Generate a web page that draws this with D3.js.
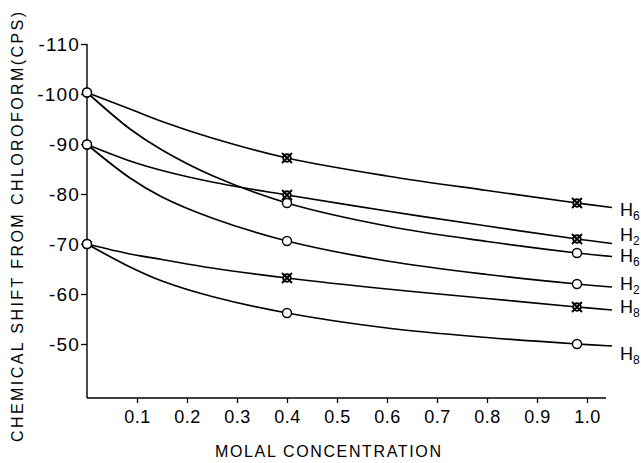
<!DOCTYPE html>
<html>
<head>
<meta charset="utf-8">
<script src="https://cdn.jsdelivr.net/npm/d3@7"></script>
<style>
  html, body { margin: 0; padding: 0; background: #fff; }
  svg { display: block; }
  text { font-family: "Liberation Sans", Arial, sans-serif; fill: #000; }
</style>
</head>
<body>
<svg id="chart" width="641" height="463"></svg>
<script>
// ---- data ----
const xTicks = [0.1, 0.2, 0.3, 0.4, 0.5, 0.6, 0.7, 0.8, 0.9, 1.0];
const xTickLabels = ["0.1", "0.2", "0.3", "0.4", "0.5", "0.6", "0.7", "0.8", "0.9", "1.0"];
const yTicks = [-110, -100, -90, -80, -70, -60, -50];
const yTickLabels = ["-110", "-100", "-90", "-80", "-70", "-60", "-50"];

const seriesNames = ["H6 (x)", "H2 (x)", "H6 (o)", "H2 (o)", "H8 (x)", "H8 (o)"];
const seriesLabel = ["6", "2", "6", "2", "8", "8"];
const seriesMarker = ["cross", "cross", "open", "open", "cross", "open"];

// measured points (molal concentration)
const markerX = [0, 0.4, 0.98];
const h6Cross = [-100.3, -87.2, -78.2];
const h2Cross = [-89.9, -79.8, -71.0];
const h6Open  = [-100.3, -78.2, -68.2];
const h2Open  = [-89.9, -70.6, -62.0];
const h8Cross = [-70.0, -63.2, -57.4];
const h8Open  = [-70.0, -56.2, -50.0];

// smooth curves
const traceX = [0, 0.086, 0.15, 0.25, 0.4, 0.6, 0.8, 0.98, 1.05];
const h6CrossTrace = [-100.3, -97.0, -94.5, -91.2, -87.2, -83.6, -80.7, -78.2, -77.3];
const h2CrossTrace = [-89.9, -86.6, -84.7, -82.4, -79.8, -76.6, -73.6, -71.0, -70.1];
const h6OpenTrace  = [-100.3, -93.0, -88.8, -83.7, -78.2, -73.6, -70.5, -68.2, -67.5];
const h2OpenTrace  = [-89.9, -83.2, -79.4, -75.2, -70.6, -66.6, -63.9, -62.0, -61.4];
const h8CrossTrace = [-70.0, -68.0, -66.9, -65.2, -63.2, -61.0, -59.1, -57.4, -56.8];
const h8OpenTrace  = [-70.0, -65.4, -62.6, -59.5, -56.2, -53.2, -51.3, -50.0, -49.6];

const markers = [h6Cross, h2Cross, h6Open, h2Open, h8Cross, h8Open];
const traces = [h6CrossTrace, h2CrossTrace, h6OpenTrace, h2OpenTrace, h8CrossTrace, h8OpenTrace];

// ---- layout ----
const L = { x0: 87, x1: 587, yTop: 44, yBot: 344, axisY: 398, axisRight: 606 };
const labelNudge = [8, -3, 5, 3, 3, 14];

const svg = d3.select("#chart");
const x = d3.scaleLinear().domain([0, 1]).range([L.x0, L.x1]);
const y = d3.scaleLinear().domain([-110, -50]).range([L.yTop, L.yBot]);

// axes lines
svg.append("line").attr("x1", L.x0).attr("x2", L.x0).attr("y1", y(-110)).attr("y2", L.axisY)
  .attr("stroke", "#000").attr("stroke-width", 1.4);
svg.append("line").attr("x1", L.x0).attr("x2", L.axisRight).attr("y1", L.axisY).attr("y2", L.axisY)
  .attr("stroke", "#000").attr("stroke-width", 1.4);

// y axis ticks
const yAxis = d3.axisLeft(y).tickValues(yTicks).tickSize(6).tickPadding(1)
  .tickFormat((d, i) => yTickLabels[i]);
const gy = svg.append("g").attr("transform", `translate(${L.x0},0)`).call(yAxis);
gy.select(".domain").remove();
gy.selectAll(".tick line").attr("stroke", "#000").attr("stroke-width", 1.3);
gy.selectAll(".tick text").attr("font-size", 19).attr("letter-spacing", 1.2)
  .attr("font-family", "Liberation Sans, Arial, sans-serif").attr("fill", "#000");

// x axis ticks
const xAxis = d3.axisBottom(x).tickValues(xTicks).tickSize(5).tickPadding(7)
  .tickFormat((d, i) => xTickLabels[i]);
const gx = svg.append("g").attr("transform", `translate(0,${L.axisY})`).call(xAxis);
gx.select(".domain").remove();
gx.selectAll(".tick line").attr("stroke", "#000").attr("stroke-width", 1.3);
gx.selectAll(".tick text").attr("font-size", 18).attr("letter-spacing", 0.5)
  .attr("font-family", "Liberation Sans, Arial, sans-serif").attr("fill", "#000");

// axis titles
svg.append("text").attr("x", 328).attr("y", 457).attr("text-anchor", "middle")
  .attr("font-size", 16).attr("textLength", 226).attr("lengthAdjust", "spacing")
  .text("MOLAL CONCENTRATION");
svg.append("text").attr("transform", "translate(23,227) rotate(-90)").attr("text-anchor", "middle")
  .attr("font-size", 16).attr("textLength", 430).attr("lengthAdjust", "spacing")
  .text("CHEMICAL SHIFT FROM CHLOROFORM(CPS)");

// curves
const line = d3.line().x(d => x(d[0])).y(d => y(d[1])).curve(d3.curveCatmullRom.alpha(0.5));
traces.forEach((t) => {
  svg.append("path").datum(traceX.map((xx, i) => [xx, t[i]]))
    .attr("d", line).attr("fill", "none").attr("stroke", "#000").attr("stroke-width", 1.7);
});

// markers
markers.forEach((m, s) => {
  m.forEach((v, i) => {
    const cx = x(markerX[i]), cy = y(v);
    const kind = i === 0 ? "open" : seriesMarker[s];
    if (kind === "open") {
      svg.append("circle").attr("cx", cx).attr("cy", cy).attr("r", 4.5)
        .attr("fill", "#fff").attr("stroke", "#000").attr("stroke-width", 1.4);
    } else {
      svg.append("circle").attr("cx", cx).attr("cy", cy).attr("r", 3.8)
        .attr("fill", "#fff").attr("stroke", "#000").attr("stroke-width", 1.9);
      const k = 5;
      svg.append("path").attr("d", `M${cx - k},${cy - k}L${cx + k},${cy + k}M${cx - k},${cy + k}L${cx + k},${cy - k}`)
        .attr("stroke", "#000").attr("stroke-width", 1.9);
    }
  });
});

// right labels
traces.forEach((t, s) => {
  const ly = y(t[t.length - 1]) + labelNudge[s];
  const tx = svg.append("text").attr("x", x(traceX[traceX.length - 1]) + 8).attr("y", ly)
    .attr("font-size", 18);
  tx.append("tspan").text("H");
  tx.append("tspan").attr("font-size", 12).attr("dy", 4).text(seriesLabel[s]);
});
</script>
</body>
</html>
